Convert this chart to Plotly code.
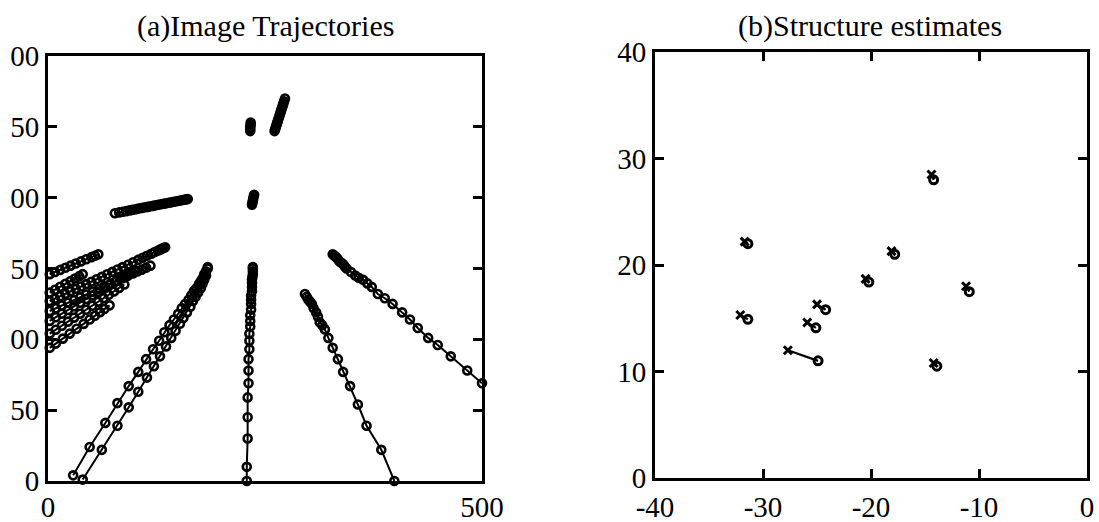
import plotly.graph_objects as go

# ---------------- (a) Image trajectories (image coordinates) ----------------
traj_a_x = [29, 48, 66, 80, 93, 104, 113, 121, 128, 134, 140, 145, 150, 154, 158, 162, 165, 168, 171, 174, 176, 178, 180, 182, 184]
traj_a_y = [4, 24, 41, 55, 67, 77, 86, 93, 99, 105, 110, 114, 118, 122, 125, 128, 131, 134, 136, 139, 141, 143, 146, 148, 151]
traj_b_x = [40, 62, 80, 93, 104, 114, 122, 129, 136, 142, 147, 152, 156, 160, 164, 167, 170, 173, 176, 178, 180, 182, 184]
traj_b_y = [1, 22, 39, 52, 63, 73, 81, 88, 95, 101, 106, 111, 115, 119, 123, 127, 130, 133, 136, 139, 142, 145, 150]
traj_c_x = [229, 229, 230, 230, 230, 231, 231, 231, 232, 232, 232, 233, 233, 233, 234, 234, 234, 234, 235, 235, 235, 235, 235.5, 236, 236, 236, 236]
traj_c_y = [0, 10, 30, 45, 59, 69, 78, 86, 93, 99, 104, 109, 113, 117, 121, 125, 128, 131, 134, 137, 140, 142, 144, 146, 148, 150, 151]
traj_d_x = [296, 298, 300, 302, 304, 306, 309, 311, 313, 316, 319, 323, 328, 334, 340, 348, 357, 367, 384, 399]
traj_d_y = [132, 130, 128, 126.5, 125, 122, 119, 116, 112, 110, 107, 101, 94, 86, 77, 67, 54, 39, 22, 0]
traj_e_x = [328, 330, 332, 334, 336, 338, 340, 342, 344, 349, 354, 358, 363, 368, 373, 380, 388, 397, 408, 417, 426, 438, 449, 464, 483, 500]
traj_e_y = [160, 159, 158, 156.5, 155, 154, 153, 151.5, 150, 147.5, 145, 143.5, 142, 139.5, 137, 132, 129, 125, 119, 114, 108, 101, 96, 88, 78, 69]
traj_f1_x = [2, 8, 14, 20, 26, 32, 38, 44, 50, 54, 58]
traj_f1_y = [146, 147.5, 149, 150.5, 152, 153.5, 155, 156.5, 158, 159, 160]
traj_f2_x = [2, 8, 14, 20, 26, 31, 36, 40]
traj_f2_y = [133, 135, 137.1, 139.2, 141.2, 142.9, 144.6, 146]
traj_g1_x = [2, 8, 14, 20, 26, 32, 38, 44, 50, 56, 62, 68, 74, 80, 86, 92, 98, 104, 109, 114, 119, 123, 127, 129, 131, 133, 135]
traj_g1_y = [127, 128.7, 130.4, 132.1, 133.9, 135.6, 137.3, 139.0, 140.7, 142.4, 144.1, 145.9, 147.6, 149.3, 151.0, 152.7, 154.4, 156.1, 157.6, 159.0, 160.4, 161.6, 162.7, 163.3, 163.9, 164.4, 165]
traj_g2_x = [2, 9, 16, 23, 30, 37, 44, 51, 58, 65, 72, 79, 86, 92, 98, 103, 108, 113, 118]
traj_g2_y = [120, 121.9, 123.9, 125.8, 127.7, 129.6, 131.6, 133.5, 135.4, 137.4, 139.3, 141.2, 143.2, 144.8, 146.5, 147.9, 149.2, 150.6, 152]
traj_g3_x = [2, 9, 16, 23, 30, 37, 44, 51, 58, 65, 71, 77, 83, 88, 92, 96, 100]
traj_g3_y = [113, 115.6, 118.1, 120.7, 123.3, 125.8, 128.4, 131, 133.5, 136.1, 138.3, 140.5, 142.7, 144.6, 146.1, 147.5, 149]
traj_g4_x = [2, 9, 17, 25, 33, 41, 48, 54, 60, 65, 71]
traj_g4_y = [94, 97, 100.5, 104, 107.5, 110.9, 114, 116.6, 119.2, 121.4, 124]
traj_g5_x = [2, 9, 16, 23, 30, 37, 44, 51, 58, 64, 70, 76, 82, 88]
traj_g5_y = [104, 106.8, 109.6, 112.5, 115.3, 118.1, 120.9, 123.7, 126.6, 129, 131.4, 133.8, 136.3, 138.7]
traj_h_x = [77, 82, 86, 90, 94, 97, 100, 103, 106, 109, 112, 115, 118, 121, 124, 127, 130, 133, 136, 139, 142, 145, 148, 151, 154, 157, 159, 161]
traj_h_y = [189.0, 189.6, 190.1, 190.5, 191.0, 191.4, 191.7, 192.1, 192.5, 192.8, 193.2, 193.5, 193.9, 194.2, 194.6, 195.0, 195.3, 195.7, 196.0, 196.4, 196.7, 197.1, 197.5, 197.8, 198.2, 198.5, 198.8, 199.0]
traj_i_x = [233, 233, 233, 233.5, 233.5]
traj_i_y = [247, 248.5, 250, 251.5, 253]
traj_j_x = [261, 261.8, 262.6, 263.3, 264.1, 264.9, 265.7, 266.5, 267.3, 268.0, 268.8, 269.6, 270.4, 271.2, 272.0, 273]
traj_j_y = [247, 248.5, 250, 251.5, 253, 254.5, 256, 257.5, 259, 260.5, 262, 263.5, 265, 266.5, 268, 270]
traj_k_x = [235, 235.5, 236, 236.5, 237, 237.5]
traj_k_y = [195, 196.5, 198, 199.5, 201, 202]

trajectories_x = [traj_a_x, traj_b_x, traj_c_x, traj_d_x, traj_e_x, traj_f1_x, traj_f2_x,
                  traj_g1_x, traj_g2_x, traj_g3_x, traj_g4_x, traj_g5_x, traj_h_x,
                  traj_i_x, traj_j_x, traj_k_x]
trajectories_y = [traj_a_y, traj_b_y, traj_c_y, traj_d_y, traj_e_y, traj_f1_y, traj_f2_y,
                  traj_g1_y, traj_g2_y, traj_g3_y, traj_g4_y, traj_g5_y, traj_h_y,
                  traj_i_y, traj_j_y, traj_k_y]

# ---------------- (b) Structure estimates ----------------
est_true_x = [-31.7, -32.1, -27.7, -25.9, -25.0, -20.5, -18.1, -14.4, -11.2, -14.2]
est_true_y = [22.2, 15.3, 12.0, 14.6, 16.3, 18.7, 21.3, 28.5, 18.0, 10.8]
est_est_x = [-31.4, -31.4, -24.9, -25.1, -24.2, -20.2, -17.8, -14.2, -10.9, -13.9]
est_est_y = [22.0, 14.9, 11.0, 14.1, 15.8, 18.4, 21.0, 28.0, 17.5, 10.5]

# tick labels as printed in the (cropped) reference
left_yticks = [0, 50, 100, 150, 200, 250, 300]
left_yticklabels = ["0", "50", "00", "50", "00", "50", "00"]
left_xticks = [0, 500]
left_xticklabels = ["0", "500"]
right_xticks = [-40, -30, -20, -10, 0]
right_xticklabels = ["-40", "-30", "-20", "-10", "0"]
right_yticks = [0, 10, 20, 30, 40]
right_yticklabels = ["0", "10", "20", "30", "40"]

FONT = "Liberation Serif"

fig = go.Figure()
for tx, ty in zip(trajectories_x, trajectories_y):
    fig.add_trace(go.Scatter(
        x=tx, y=ty, mode="lines+markers", xaxis="x", yaxis="y",
        line=dict(color="black", width=2),
        marker=dict(symbol="circle-open", size=8, color="black", line=dict(width=2.6)),
        cliponaxis=False, showlegend=False, hoverinfo="skip"))

seg_x, seg_y = [], []
for x1, y1, x2, y2 in zip(est_true_x, est_true_y, est_est_x, est_est_y):
    seg_x += [x1, x2, None]
    seg_y += [y1, y2, None]
fig.add_trace(go.Scatter(x=seg_x, y=seg_y, mode="lines", xaxis="x2", yaxis="y2",
                         line=dict(color="black", width=2.2), showlegend=False, hoverinfo="skip"))
fig.add_trace(go.Scatter(x=est_true_x, y=est_true_y, mode="markers", xaxis="x2", yaxis="y2",
                         marker=dict(symbol="x-thin", size=8, color="black", line=dict(width=3, color="black")),
                         showlegend=False, hoverinfo="skip"))
fig.add_trace(go.Scatter(x=est_est_x, y=est_est_y, mode="markers", xaxis="x2", yaxis="y2",
                         marker=dict(symbol="circle-open", size=8, color="black", line=dict(width=3)),
                         showlegend=False, hoverinfo="skip"))

axis_common = dict(showline=True, linecolor="black", linewidth=2.8, mirror="ticks",
                   showgrid=False, zeroline=False, ticks="inside", ticklen=9,
                   tickwidth=2.6, tickcolor="black", automargin=False,
                   tickfont=dict(family=FONT, size=29, color="black"))

fig.update_layout(
    width=1099, height=522,
    margin=dict(l=0, r=0, t=0, b=0),
    paper_bgcolor="white", plot_bgcolor="white",
    template="none",
    xaxis=dict(axis_common, domain=[48 / 1099, 482 / 1099], range=[0, 500],
               tickvals=left_xticks, ticktext=left_xticklabels, ticklen=0,
               anchor="y", ticklabelstandoff=-2),
    yaxis=dict(axis_common, domain=[(522 - 481) / 522, (522 - 56) / 522], range=[0, 300],
               tickvals=left_yticks, ticktext=left_yticklabels, anchor="x", ticklabelstandoff=0),
    xaxis2=dict(axis_common, domain=[655 / 1099, 1087 / 1099], range=[-40, 0],
                tickvals=right_xticks, ticktext=right_xticklabels, anchor="y2", ticklabelstandoff=1),
    yaxis2=dict(axis_common, domain=[(522 - 478) / 522, (522 - 52) / 522], range=[0, 40],
                tickvals=right_yticks, ticktext=right_yticklabels, anchor="x2", ticklabelstandoff=0),
    annotations=[
        dict(text="(a)Image Trajectories", x=265 / 1099, y=1 - 26 / 522, xref="paper", yref="paper",
             xanchor="center", yanchor="middle", showarrow=False,
             font=dict(family=FONT, size=30, color="black")),
        dict(text="(b)Structure estimates", x=870 / 1099, y=1 - 26 / 522, xref="paper", yref="paper",
             xanchor="center", yanchor="middle", showarrow=False,
             font=dict(family=FONT, size=30, color="black")),
    ],
)

fig.write_html("out.html", config={"displayModeBar": False},
               post_script="document.body.style.margin='0px';")
